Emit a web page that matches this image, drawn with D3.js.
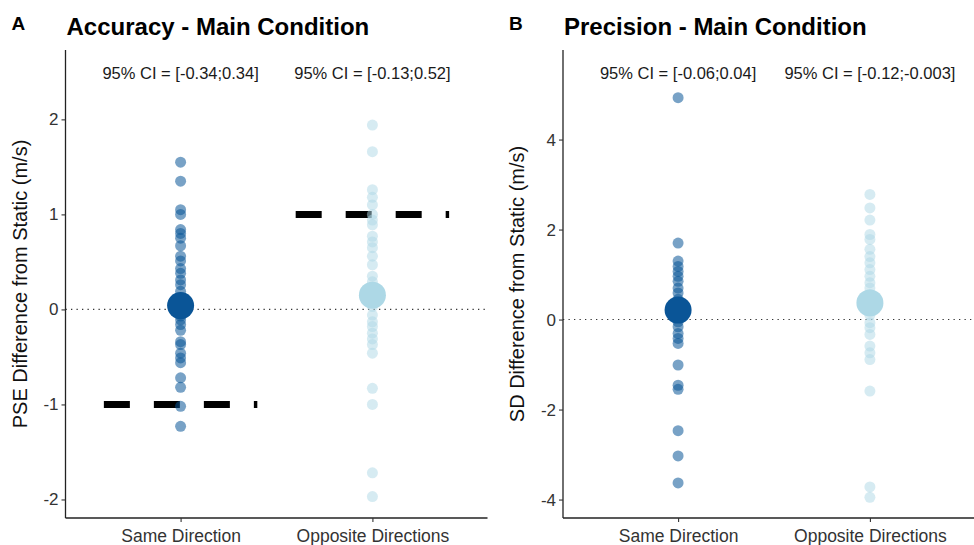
<!DOCTYPE html>
<html>
<head>
<meta charset="utf-8">
<script src="https://cdn.jsdelivr.net/npm/d3@7"></script>
<style>
  body { margin: 0; background: #fff; }
  svg { display: block; font-family: "Liberation Sans", Arial, sans-serif; }
</style>
</head>
<body>
<svg id="svg" width="974" height="545"></svg>
<script>
// categories
var groups = ["Same Direction", "Opposite Directions"];

// panel A - PSE difference (m/s)
var accSame = [1.55, 1.35, 1.05, 1.0, 0.84, 0.8, 0.75, 0.67, 0.56, 0.51, 0.43, 0.38, 0.31, 0.26, 0.19, 0.12, 0.08, 0.02, -0.03, -0.07, -0.11, -0.16, -0.22, -0.34, -0.37, -0.46, -0.51, -0.56, -0.72, -0.82, -1.02, -1.23];
var accOpp = [1.94, 1.66, 1.26, 1.18, 1.1, 1.0, 0.94, 0.89, 0.77, 0.71, 0.65, 0.56, 0.47, 0.35, 0.29, 0.22, 0.1, 0.03, -0.06, -0.13, -0.18, -0.25, -0.31, -0.37, -0.46, -0.83, -1.0, -1.72, -1.97];
var accMean = [0.04, 0.15];
var accHypo = [-1, 1];
var accCI = ["95% CI = [-0.34;0.34]", "95% CI = [-0.13;0.52]"];
var accTicks = [-2, -1, 0, 1, 2];

// panel B - SD difference (m/s)
var precSame = [4.93, 1.7, 1.3, 1.18, 1.07, 0.96, 0.85, 0.7, 0.59, 0.45, 0.3, 0.12, 0.05, -0.05, -0.16, -0.31, -0.42, -0.53, -1.01, -1.46, -1.55, -2.47, -3.03, -3.63];
var precOpp = [2.78, 2.48, 2.21, 1.89, 1.78, 1.56, 1.4, 1.26, 1.11, 0.96, 0.82, 0.7, 0.55, 0.45, 0.2, 0.1, -0.07, -0.18, -0.33, -0.59, -0.74, -0.89, -1.59, -3.72, -3.95];
var precMean = [0.21, 0.37];
var precCI = ["95% CI = [-0.06;0.04]", "95% CI = [-0.12;-0.003]"];
var precTicks = [-4, -2, 0, 2, 4];

var colors = ["#0a5597", "#add8e6"];
var svg = d3.select("#svg");

function panel(opt) {
    var g = svg.append("g");
    var x = d3.scalePoint().domain(groups).range([opt.x0, opt.x0 + 422]).padding(0.6);
    var y = d3.scaleLinear().domain(opt.domain).range([518, 50]);

    // letter + title
    g.append("text").attr("x", opt.x0 - 54).attr("y", 30).attr("font-size", 19)
        .attr("font-weight", "bold").text(opt.letter);
    g.append("text").attr("x", opt.x0 + 1).attr("y", 35).attr("font-size", 24)
        .attr("font-weight", "bold").text(opt.title);

    // zero line
    g.append("line").attr("x1", opt.x0).attr("x2", opt.x0 + 422)
        .attr("y1", y(0)).attr("y2", y(0))
        .attr("stroke", "#333").attr("stroke-width", 1.1).attr("stroke-dasharray", "1.3,4.2");

    // hypothesised values
    if (opt.hypo) {
        g.selectAll(".hypo").data(opt.hypo).enter().append("line").attr("class", "hypo")
            .attr("x1", function(d, i) { return x(groups[i]) - 0.4 * x.step(); })
            .attr("x2", function(d, i) { return x(groups[i]) + 0.4 * x.step(); })
            .attr("y1", function(d) { return y(d); })
            .attr("y2", function(d) { return y(d); })
            .attr("stroke", "#000").attr("stroke-width", 7).attr("stroke-dasharray", "26,24");
    }

    // individual points
    opt.series.forEach(function(vals, i) {
        g.append("g").selectAll("circle").data(vals).enter().append("circle")
            .attr("cx", x(groups[i])).attr("cy", function(d) { return y(d); })
            .attr("r", 5.5).attr("fill", colors[i]).attr("fill-opacity", i ? 0.5 : 0.55);
    });

    // means
    g.selectAll(".mean").data(opt.mean).enter().append("circle").attr("class", "mean")
        .attr("cx", function(d, i) { return x(groups[i]); })
        .attr("cy", function(d) { return y(d); })
        .attr("r", 13.5).attr("fill", function(d, i) { return colors[i]; });

    // CI labels
    g.selectAll(".ci").data(opt.ci).enter().append("text").attr("class", "ci")
        .attr("x", function(d, i) { return x(groups[i]); }).attr("y", 79)
        .attr("text-anchor", "middle").attr("font-size", 16.5).attr("fill", "#1a1a1a")
        .text(function(d) { return d; });

    // axes
    var ya = g.append("g").attr("transform", "translate(" + opt.x0 + ",0)")
        .call(d3.axisLeft(y).tickValues(opt.ticks).tickSize(4).tickPadding(3)
            .tickFormat(function(d) { return String(d); }));
    var xa = g.append("g").attr("transform", "translate(0,518)")
        .call(d3.axisBottom(x).tickSize(4).tickPadding(8));
    [ya, xa].forEach(function(a) {
        a.select(".domain").attr("stroke", "#222").attr("stroke-width", 1.3);
        a.selectAll(".tick line").attr("stroke", "#333").attr("stroke-width", 1.1);
        a.selectAll(".tick text").attr("fill", "#333").attr("font-family", null);
    });
    ya.attr("font-size", 17);
    xa.attr("font-size", 17.5);
    ya.select(".domain").attr("d", "M0,50V518");
    xa.select(".domain").attr("d", "M" + opt.x0 + ",0H" + (opt.x0 + 422));

    g.append("text").attr("transform", "translate(" + (opt.x0 - 39) + ",284) rotate(-90)")
        .attr("text-anchor", "middle").attr("font-size", 20).attr("fill", "#111")
        .text(opt.ylab);
}

panel({ letter: "A", title: "Accuracy - Main Condition", x0: 65.5, domain: [-2.195, 2.73],
    series: [accSame, accOpp], mean: accMean, hypo: accHypo, ci: accCI, ticks: accTicks,
    ylab: "PSE Difference from Static (m/s)" });
panel({ letter: "B", title: "Precision - Main Condition", x0: 563, domain: [-4.41, 5.99],
    series: [precSame, precOpp], mean: precMean, hypo: null, ci: precCI, ticks: precTicks,
    ylab: "SD Difference from Static (m/s)" });
</script>
</body>
</html>
